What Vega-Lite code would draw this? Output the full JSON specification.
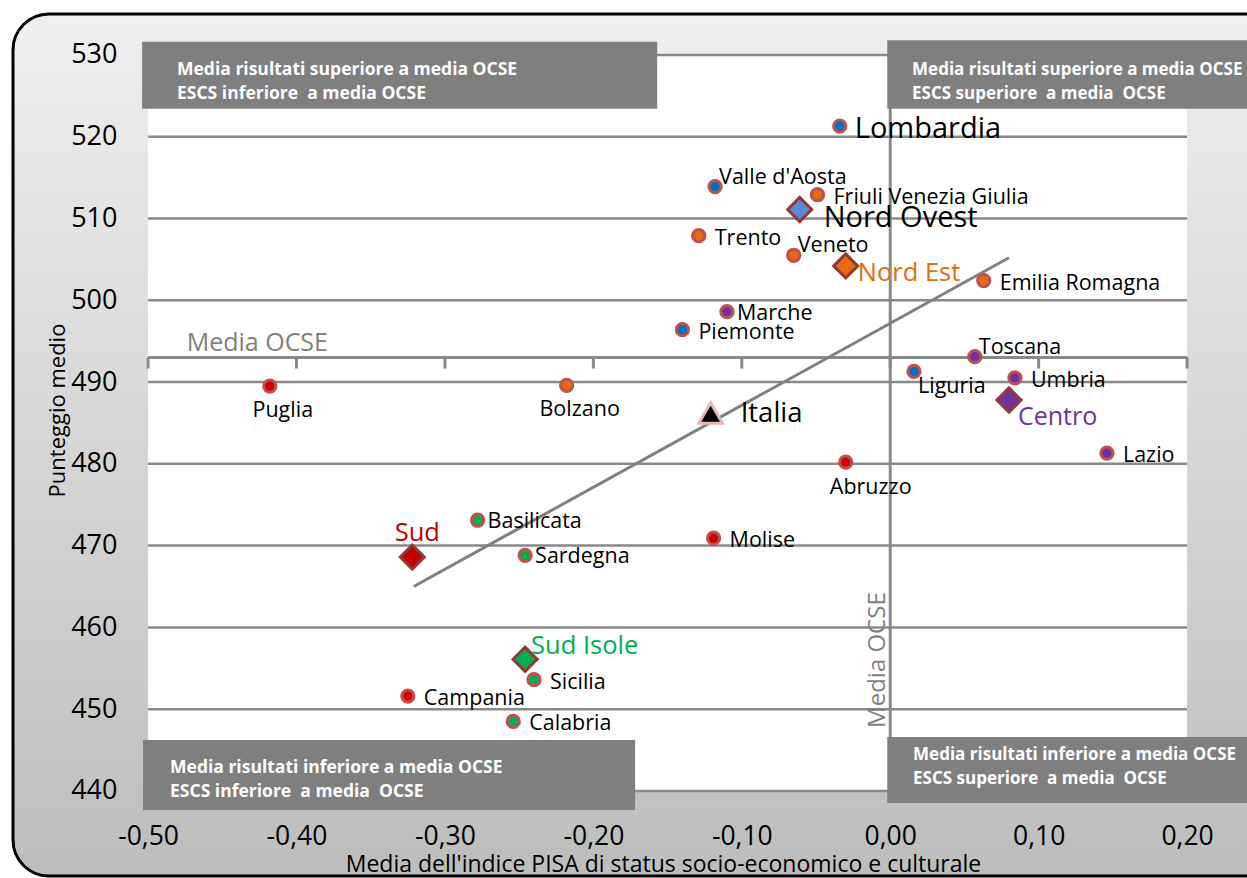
{
  "$schema": "https://vega.github.io/schema/vega-lite/v6.json",
  "width": 1278,
  "height": 862,
  "autosize": {"type": "none"},
  "padding": {"left": 13, "top": 14, "right": -44, "bottom": 2},
  "background": "white",
  "config": {
    "view": {
      "fill": {"gradient": "linear", "x1": 0, "y1": 0, "x2": 0, "y2": 1, "stops": [{"offset": 0, "color": "#efefef"}, {"offset": 1, "color": "#bdbdbd"}]},
      "stroke": "#000000",
      "strokeWidth": 3,
      "cornerRadius": 36
    },
    "font": "Open Sans",
    "axis": {"grid": false, "domain": false, "ticks": false, "labelFontSize": 27, "labelColor": "#000000", "titleFontSize": 22, "titleFontWeight": "normal", "titleColor": "#000000", "labelFlush": false, "labelOverlap": false}
  },
  "resolve": {"scale": {"fill": "independent"}},
  "datasets": {
    "points": [
      {"name": "Lombardia", "group": "Nord Ovest", "type": "regione", "escs": -0.034, "score": 521.3},
      {"name": "Valle d'Aosta", "group": "Nord Ovest", "type": "regione", "escs": -0.118, "score": 513.9},
      {"name": "Piemonte", "group": "Nord Ovest", "type": "regione", "escs": -0.140, "score": 496.4},
      {"name": "Liguria", "group": "Nord Ovest", "type": "regione", "escs": 0.016, "score": 491.3},
      {"name": "Friuli Venezia Giulia", "group": "Nord Est", "type": "regione", "escs": -0.049, "score": 512.9},
      {"name": "Trento", "group": "Nord Est", "type": "regione", "escs": -0.129, "score": 507.9},
      {"name": "Veneto", "group": "Nord Est", "type": "regione", "escs": -0.065, "score": 505.5},
      {"name": "Emilia Romagna", "group": "Nord Est", "type": "regione", "escs": 0.063, "score": 502.4},
      {"name": "Bolzano", "group": "Nord Est", "type": "regione", "escs": -0.218, "score": 489.6},
      {"name": "Marche", "group": "Centro", "type": "regione", "escs": -0.110, "score": 498.6},
      {"name": "Toscana", "group": "Centro", "type": "regione", "escs": 0.057, "score": 493.1},
      {"name": "Umbria", "group": "Centro", "type": "regione", "escs": 0.084, "score": 490.5},
      {"name": "Lazio", "group": "Centro", "type": "regione", "escs": 0.146, "score": 481.3},
      {"name": "Puglia", "group": "Sud", "type": "regione", "escs": -0.418, "score": 489.5},
      {"name": "Abruzzo", "group": "Sud", "type": "regione", "escs": -0.030, "score": 480.2},
      {"name": "Molise", "group": "Sud", "type": "regione", "escs": -0.119, "score": 470.9},
      {"name": "Campania", "group": "Sud", "type": "regione", "escs": -0.325, "score": 451.6},
      {"name": "Basilicata", "group": "Sud Isole", "type": "regione", "escs": -0.278, "score": 473.1},
      {"name": "Sardegna", "group": "Sud Isole", "type": "regione", "escs": -0.246, "score": 468.8},
      {"name": "Sicilia", "group": "Sud Isole", "type": "regione", "escs": -0.240, "score": 453.6},
      {"name": "Calabria", "group": "Sud Isole", "type": "regione", "escs": -0.254, "score": 448.5},
      {"name": "Nord Ovest", "group": "Nord Ovest", "type": "macroarea", "escs": -0.061, "score": 511.1},
      {"name": "Nord Est", "group": "Nord Est", "type": "macroarea", "escs": -0.030, "score": 504.2},
      {"name": "Centro", "group": "Centro", "type": "macroarea", "escs": 0.080, "score": 487.8},
      {"name": "Sud", "group": "Sud", "type": "macroarea", "escs": -0.322, "score": 468.6},
      {"name": "Sud Isole", "group": "Sud Isole", "type": "macroarea", "escs": -0.246, "score": 456.1},
      {"name": "Italia", "group": "Italia", "type": "nazione", "escs": -0.121, "score": 486.2}
    ],
    "plotarea": [{"x1": -0.5, "x2": 0.2, "y1": 440, "y2": 530}],
    "grid": [{"v": 440}, {"v": 450}, {"v": 460}, {"v": 470}, {"v": 480}, {"v": 490}, {"v": 500}, {"v": 510}, {"v": 520}, {"v": 530}],
    "ticks": [{"v": -0.5}, {"v": -0.4}, {"v": -0.3}, {"v": -0.2}, {"v": -0.1}, {"v": 0}, {"v": 0.1}, {"v": 0.2}],
    "ocse": [{"escs": 0, "score": 493}],
    "trend": [{"escs": -0.321, "score": 465.0}, {"escs": 0.080, "score": 505.2}],
    "boxes": [
      {"quadrant": "sinistra", "x1": -0.504, "x2": -0.157, "y1": 531.6, "y2": 523.4, "tx": -0.4805, "ty": 528.17, "label": "Media risultati  superiore a media OCSE\nESCS inferiore\u00a0 a media OCSE"},
      {"quadrant": "destra", "x1": -0.002, "x2": 0.26, "y1": 531.8, "y2": 523.4, "tx": 0.0147, "ty": 528.17, "label": "Media risultati  superiore  a media  OCSE\nESCS superiore\u00a0 a media\u00a0 OCSE"},
      {"quadrant": "sinistra", "x1": -0.5034, "x2": -0.1719, "y1": 446.24, "y2": 437.68, "tx": -0.4852, "ty": 442.82, "label": "Media risultati  inferiore  a media  OCSE\nESCS inferiore\u00a0 a media\u00a0 OCSE"},
      {"quadrant": "destra", "x1": -0.002, "x2": 0.26, "y1": 446.6, "y2": 438.53, "tx": 0.0154, "ty": 444.4, "label": "Media risultati  inferiore  a media  OCSE\nESCS superiore\u00a0 a media\u00a0 OCSE"}
    ]
  },
  "layer": [
    {
      "data": {"name": "plotarea"},
      "mark": {"type": "rect", "fill": "#ffffff"},
      "encoding": {
        "x": {
          "field": "x1", "type": "quantitative",
          "scale": {"domain": [-0.591, 0.27], "nice": false, "zero": false},
          "axis": {
            "values": [-0.5, -0.4, -0.3, -0.2, -0.1, 0, 0.1, 0.2],
            "labelExpr": "replace(replace(format(datum.value, '.2f'), '.', ','), '\u2212', '-')",
            "offset": -85,
            "labelPadding": 32,
            "labelFontSize": 26.5,
            "title": "Media dell'indice PISA di status socio-economico e culturale",
            "titleFontSize": 23,
            "titleX": 650, "titleY": 73, "titleBaseline": "middle", "titleAlign": "center"
          }
        },
        "x2": {"field": "x2"},
        "y": {
          "field": "y1", "type": "quantitative",
          "scale": {"domain": [429.6, 535.0], "nice": false, "zero": false},
          "axis": {
            "values": [440, 450, 460, 470, 480, 490, 500, 510, 520, 530],
            "offset": -135,
            "labelPadding": 31,
            "title": "Punteggio medio",
            "titleX": -91, "titleY": 396, "titleAngle": 270, "titleAlign": "center", "titleBaseline": "middle"
          }
        },
        "y2": {"field": "y2"}
      }
    },
    {
      "data": {"name": "grid"},
      "mark": {"type": "rule", "color": "#898989", "strokeWidth": 2.5},
      "encoding": {
        "y": {"field": "v", "type": "quantitative"},
        "x": {"datum": -0.5, "type": "quantitative"},
        "x2": {"datum": 0.2}
      }
    },
    {
      "data": {"name": "ocse"},
      "mark": {"type": "rule", "color": "#898989", "strokeWidth": 3},
      "encoding": {
        "x": {"field": "escs", "type": "quantitative"},
        "y": {"datum": 440, "type": "quantitative"},
        "y2": {"datum": 530}
      }
    },
    {
      "data": {"name": "ocse"},
      "mark": {"type": "rule", "color": "#898989", "strokeWidth": 3},
      "encoding": {
        "y": {"field": "score", "type": "quantitative"},
        "x": {"datum": -0.5, "type": "quantitative"},
        "x2": {"datum": 0.2}
      }
    },
    {
      "data": {"name": "ticks"},
      "mark": {"type": "rule", "color": "#898989", "strokeWidth": 3},
      "encoding": {
        "x": {"field": "v", "type": "quantitative"},
        "y": {"datum": 493, "type": "quantitative"},
        "y2": {"datum": 491.65}
      }
    },
    {
      "data": {"name": "trend"},
      "mark": {"type": "line", "color": "#808080", "strokeWidth": 3},
      "encoding": {
        "x": {"field": "escs", "type": "quantitative"},
        "y": {"field": "score", "type": "quantitative"}
      }
    },
    {
      "data": {"name": "ocse"},
      "mark": {"type": "text", "text": "Media OCSE", "align": "left", "baseline": "middle", "dy": -14, "fontSize": 25, "color": "#7f7f7f"},
      "encoding": {
        "x": {"datum": -0.474, "type": "quantitative"},
        "y": {"field": "score", "type": "quantitative"}
      }
    },
    {
      "data": {"name": "ocse"},
      "mark": {"type": "text", "text": "Media OCSE", "align": "center", "baseline": "alphabetic", "angle": 270, "dy": -5, "fontSize": 24, "color": "#7f7f7f"},
      "encoding": {
        "x": {"field": "escs", "type": "quantitative"},
        "y": {"datum": 456, "type": "quantitative"}
      }
    },
    {
      "data": {"name": "points"},
      "transform": [{"filter": "datum.type == 'regione'"}],
      "mark": {"type": "point", "shape": "circle", "filled": true, "size": 150, "stroke": "#c0504d", "strokeWidth": 3, "opacity": 1},
      "encoding": {
        "x": {"field": "escs", "type": "quantitative"},
        "y": {"field": "score", "type": "quantitative"},
        "fill": {"field": "group", "type": "nominal", "legend": null,
          "scale": {"domain": ["Nord Ovest", "Nord Est", "Centro", "Sud", "Sud Isole"], "range": ["#0070c0", "#e46c0a", "#7030a0", "#d00000", "#00b050"]}}
      }
    },
    {
      "data": {"name": "points"},
      "transform": [{"filter": "datum.type == 'macroarea'"}],
      "mark": {"type": "point", "shape": "diamond", "filled": true, "size": 580, "stroke": "#953735", "strokeWidth": 3, "opacity": 1},
      "encoding": {
        "x": {"field": "escs", "type": "quantitative"},
        "y": {"field": "score", "type": "quantitative"},
        "fill": {"field": "name", "type": "nominal", "legend": null,
          "scale": {"domain": ["Nord Ovest", "Nord Est", "Centro", "Sud", "Sud Isole"], "range": ["#558ed5", "#e46c0a", "#7030a0", "#c00000", "#00b050"]}}
      }
    },
    {
      "data": {"name": "points"},
      "transform": [{"filter": "datum.type == 'nazione'"}],
      "mark": {"type": "point", "shape": "triangle-up", "filled": true, "size": 560, "fill": "#000000", "stroke": "#e6b9b8", "strokeWidth": 3, "opacity": 1},
      "encoding": {
        "x": {"field": "escs", "type": "quantitative"},
        "y": {"field": "score", "type": "quantitative"}
      }
    },
    {
      "data": {"name": "points"},
      "transform": [{"filter": {"field": "name", "oneOf": ["Friuli Venezia Giulia", "Trento", "Piemonte", "Emilia Romagna", "Umbria", "Lazio", "Molise", "Calabria", "Sicilia", "Campania"]}}],
      "mark": {"type": "text", "align": "left", "baseline": "middle", "dx": 16, "dy": 3, "fontSize": 21.5, "color": "#000000"},
      "encoding": {
        "x": {"field": "escs", "type": "quantitative"},
        "y": {"field": "score", "type": "quantitative"},
        "text": {"field": "name"}
      }
    },
    {
      "data": {"name": "points"},
      "transform": [{"filter": {"field": "name", "oneOf": ["Marche", "Basilicata", "Sardegna"]}}],
      "mark": {"type": "text", "align": "left", "baseline": "middle", "dx": 10, "dy": 2, "fontSize": 21.5, "color": "#000000"},
      "encoding": {
        "x": {"field": "escs", "type": "quantitative"},
        "y": {"field": "score", "type": "quantitative"},
        "text": {"field": "name"}
      }
    },
    {
      "data": {"name": "points"},
      "transform": [{"filter": {"field": "name", "oneOf": ["Valle d'Aosta", "Veneto", "Toscana"]}}],
      "mark": {"type": "text", "align": "left", "baseline": "middle", "dx": 4, "dy": -9, "fontSize": 21.5, "color": "#000000"},
      "encoding": {
        "x": {"field": "escs", "type": "quantitative"},
        "y": {"field": "score", "type": "quantitative"},
        "text": {"field": "name"}
      }
    },
    {
      "data": {"name": "points"},
      "transform": [{"filter": {"field": "name", "oneOf": ["Puglia", "Bolzano"]}}],
      "mark": {"type": "text", "align": "center", "baseline": "middle", "dx": 13, "dy": 25, "fontSize": 21.5, "color": "#000000"},
      "encoding": {
        "x": {"field": "escs", "type": "quantitative"},
        "y": {"field": "score", "type": "quantitative"},
        "text": {"field": "name"}
      }
    },
    {
      "data": {"name": "points"},
      "transform": [{"filter": {"field": "name", "oneOf": ["Abruzzo"]}}],
      "mark": {"type": "text", "align": "center", "baseline": "middle", "dx": 25, "dy": 26, "fontSize": 21.5, "color": "#000000"},
      "encoding": {
        "x": {"field": "escs", "type": "quantitative"},
        "y": {"field": "score", "type": "quantitative"},
        "text": {"field": "name"}
      }
    },
    {
      "data": {"name": "points"},
      "transform": [{"filter": {"field": "name", "oneOf": ["Liguria"]}}],
      "mark": {"type": "text", "align": "left", "baseline": "middle", "dx": 4, "dy": 16, "fontSize": 21.5, "color": "#000000"},
      "encoding": {
        "x": {"field": "escs", "type": "quantitative"},
        "y": {"field": "score", "type": "quantitative"},
        "text": {"field": "name"}
      }
    },
    {
      "data": {"name": "points"},
      "transform": [{"filter": {"field": "name", "oneOf": ["Lombardia"]}}],
      "mark": {"type": "text", "align": "left", "baseline": "middle", "dx": 15, "dy": 3, "fontSize": 29, "color": "#000000"},
      "encoding": {
        "x": {"field": "escs", "type": "quantitative"},
        "y": {"field": "score", "type": "quantitative"},
        "text": {"field": "name"}
      }
    },
    {
      "data": {"name": "points"},
      "transform": [{"filter": {"field": "name", "oneOf": ["Nord Ovest"]}}],
      "mark": {"type": "text", "align": "left", "baseline": "middle", "dx": 24, "dy": 9, "fontSize": 29, "color": "#000000"},
      "encoding": {
        "x": {"field": "escs", "type": "quantitative"},
        "y": {"field": "score", "type": "quantitative"},
        "text": {"field": "name"}
      }
    },
    {
      "data": {"name": "points"},
      "transform": [{"filter": {"field": "name", "oneOf": ["Nord Est"]}}],
      "mark": {"type": "text", "align": "left", "baseline": "middle", "dx": 12, "dy": 7, "fontSize": 25.5, "color": "#e46c0a"},
      "encoding": {
        "x": {"field": "escs", "type": "quantitative"},
        "y": {"field": "score", "type": "quantitative"},
        "text": {"field": "name"}
      }
    },
    {
      "data": {"name": "points"},
      "transform": [{"filter": {"field": "name", "oneOf": ["Centro"]}}],
      "mark": {"type": "text", "align": "left", "baseline": "middle", "dx": 9, "dy": 17, "fontSize": 25, "color": "#7030a0"},
      "encoding": {
        "x": {"field": "escs", "type": "quantitative"},
        "y": {"field": "score", "type": "quantitative"},
        "text": {"field": "name"}
      }
    },
    {
      "data": {"name": "points"},
      "transform": [{"filter": {"field": "name", "oneOf": ["Sud"]}}],
      "mark": {"type": "text", "align": "center", "baseline": "middle", "dx": 5, "dy": -24, "fontSize": 25.5, "color": "#c00000"},
      "encoding": {
        "x": {"field": "escs", "type": "quantitative"},
        "y": {"field": "score", "type": "quantitative"},
        "text": {"field": "name"}
      }
    },
    {
      "data": {"name": "points"},
      "transform": [{"filter": {"field": "name", "oneOf": ["Sud Isole"]}}],
      "mark": {"type": "text", "align": "left", "baseline": "middle", "dx": 6, "dy": -13, "fontSize": 25.5, "color": "#00b050"},
      "encoding": {
        "x": {"field": "escs", "type": "quantitative"},
        "y": {"field": "score", "type": "quantitative"},
        "text": {"field": "name"}
      }
    },
    {
      "data": {"name": "points"},
      "transform": [{"filter": {"field": "name", "oneOf": ["Italia"]}}],
      "mark": {"type": "text", "align": "left", "baseline": "middle", "dx": 30, "dy": 1, "fontSize": 27.5, "color": "#000000"},
      "encoding": {
        "x": {"field": "escs", "type": "quantitative"},
        "y": {"field": "score", "type": "quantitative"},
        "text": {"field": "name"}
      }
    },
    {
      "data": {"name": "boxes"},
      "mark": {"type": "rect", "fill": "#7f7f7f"},
      "encoding": {
        "x": {"field": "x1", "type": "quantitative"},
        "x2": {"field": "x2"},
        "y": {"field": "y1", "type": "quantitative"},
        "y2": {"field": "y2"}
      }
    },
    {
      "data": {"name": "boxes"},
      "transform": [{"filter": "datum.quadrant == 'sinistra'"}],
      "mark": {"type": "text", "align": "left", "baseline": "middle", "lineBreak": "\n", "lineHeight": 24, "fontSize": 17.5, "fontWeight": "bold", "color": "#ffffff"},
      "encoding": {
        "x": {"field": "tx", "type": "quantitative"},
        "y": {"field": "ty", "type": "quantitative"},
        "text": {"field": "label"}
      }
    },
    {
      "data": {"name": "boxes"},
      "transform": [{"filter": "datum.quadrant == 'destra'"}],
      "mark": {"type": "text", "align": "left", "baseline": "middle", "lineBreak": "\n", "lineHeight": 24, "fontSize": 17, "fontWeight": "bold", "color": "#ffffff"},
      "encoding": {
        "x": {"field": "tx", "type": "quantitative"},
        "y": {"field": "ty", "type": "quantitative"},
        "text": {"field": "label"}
      }
    }
  ]
}
